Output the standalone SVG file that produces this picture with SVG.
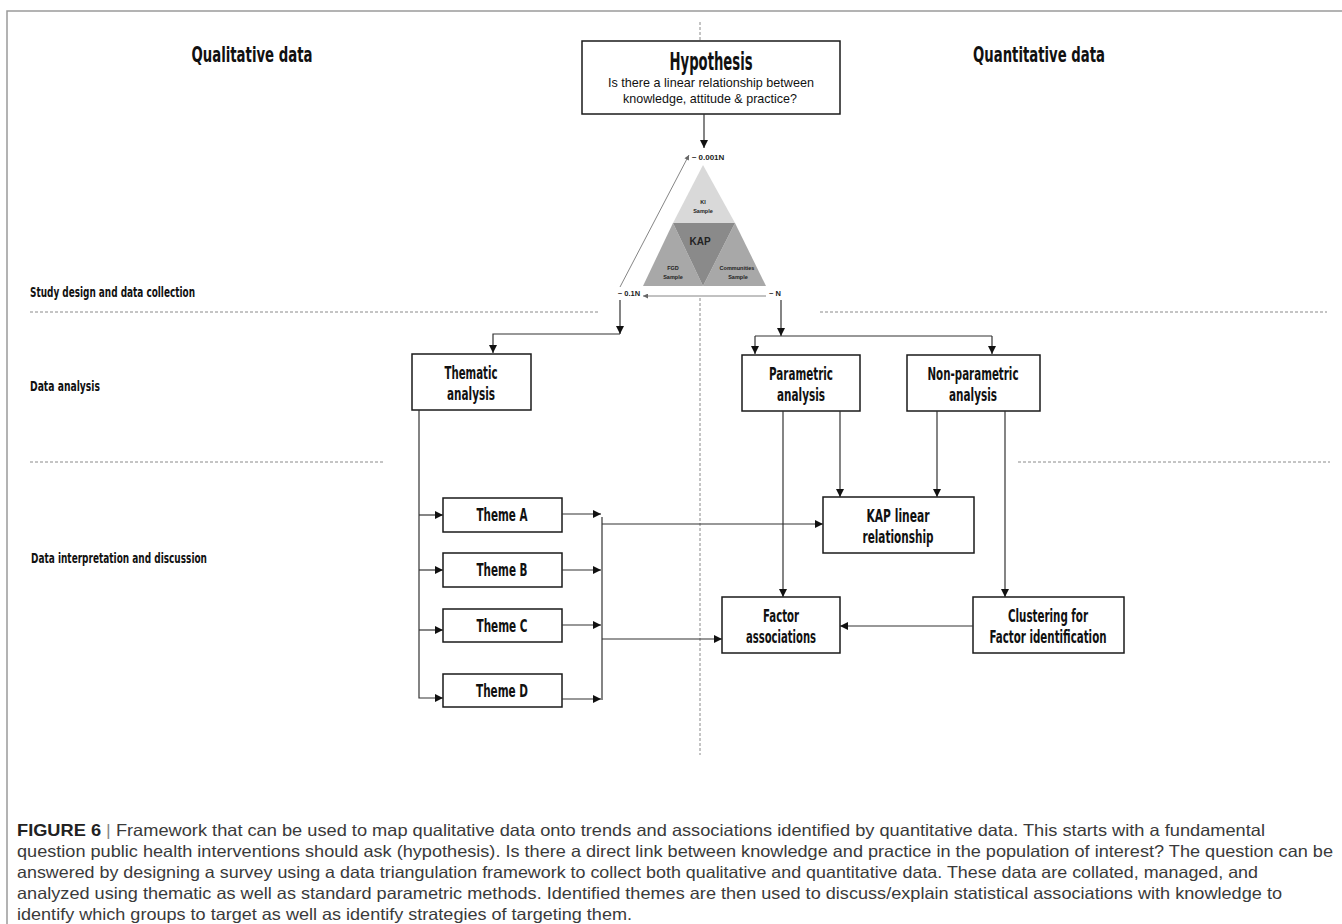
<svg xmlns="http://www.w3.org/2000/svg" width="1342" height="924" viewBox="0 0 1342 924">
<style>
.frame{stroke:#9a9a9a;stroke-width:1.5;fill:none}
.box{fill:#fff;stroke:#1a1a1a;stroke-width:1.5}
.cond{font-family:'Liberation Sans Narrow','DejaVu Sans Condensed','Roboto Condensed',sans-serif;fill:#111;font-weight:bold}
.lbl{font-size:17px;text-anchor:middle}
.side{font-size:14px}
.head{font-size:22px;text-anchor:middle}
.sub{font-family:'Liberation Sans','Open Sans',sans-serif;font-size:13.5px;fill:#111;text-anchor:middle}
.tri{font-family:'Liberation Sans',sans-serif;font-weight:bold;fill:#222;text-anchor:middle}
.conn{stroke:#333;stroke-width:1.2;fill:none}
.thin{stroke:#777;stroke-width:0.9;fill:none}
.dash{stroke:#8a8a8a;stroke-width:1;stroke-dasharray:3 2;fill:none}
.cap{font-family:'Liberation Sans','Roboto',sans-serif;font-size:16.5px;fill:#3a3a3a}
</style>
<defs>
<marker id="ah" viewBox="0 0 10 10" refX="10" refY="5" markerUnits="userSpaceOnUse" markerWidth="9" markerHeight="8" orient="auto">
<path d="M0,0 L10,5 L0,10 z" fill="#111"/>
</marker>
<marker id="ahs" viewBox="0 0 10 10" refX="10" refY="5" markerUnits="userSpaceOnUse" markerWidth="6" markerHeight="5" orient="auto">
<path d="M0,0 L10,5 L0,10 z" fill="#666"/>
</marker>
</defs>
<rect width="1342" height="924" fill="#fff"/>
<path class="frame" d="M7,924 V11 H1342"/>

<g id="headings">
<text class="cond head" x="252" y="62" textLength="121" lengthAdjust="spacingAndGlyphs">Qualitative data</text>
<text class="cond head" x="1039" y="62" textLength="132" lengthAdjust="spacingAndGlyphs">Quantitative data</text>
<text class="cond side" x="30" y="297" textLength="165" lengthAdjust="spacingAndGlyphs">Study design and data collection</text>
<text class="cond side" x="30" y="391" textLength="70" lengthAdjust="spacingAndGlyphs">Data analysis</text>
<text class="cond side" x="31" y="563" textLength="176" lengthAdjust="spacingAndGlyphs">Data interpretation and discussion</text>
</g>

<g id="separators">
<path class="dash" d="M700,22 V40"/>
<path class="dash" d="M700,298 V755"/>
<path class="dash" d="M30,312 H600 M820,312 H1327"/>
<path class="dash" d="M30,462 H383 M1018,462 H1330"/>
</g>

<g id="hypothesis">
<rect class="box" x="582" y="41" width="258" height="73"/>
<text class="cond" x="711" y="70" font-size="25" text-anchor="middle" textLength="83" lengthAdjust="spacingAndGlyphs">Hypothesis</text>
<text class="sub" x="711" y="87" textLength="206" lengthAdjust="spacingAndGlyphs">Is there a linear relationship between</text>
<text class="sub" x="710" y="103" textLength="174" lengthAdjust="spacingAndGlyphs">knowledge, attitude &amp; practice?</text>
</g>

<g id="triangle">
<polygon points="703,165 735,223 673,223" fill="#d9d9d9"/>
<polygon points="673,223 643,286 703,286" fill="#a8a8a8"/>
<polygon points="735,223 766,286 703,286" fill="#a8a8a8"/>
<polygon points="673,223 735,223 703,286" fill="#8a8a8a"/>
<text class="tri" x="708" y="160" font-size="8">~ 0.001N</text>
<text class="tri" x="703" y="204" font-size="5.5">KI</text>
<text class="tri" x="703" y="213" font-size="5.5">Sample</text>
<text class="tri" x="700" y="245" font-size="10">KAP</text>
<text class="tri" x="673" y="270" font-size="5.5">FGD</text>
<text class="tri" x="673" y="279" font-size="5.5">Sample</text>
<text class="tri" x="737" y="270" font-size="5.5">Communities</text>
<text class="tri" x="738" y="279" font-size="5.5">Sample</text>
<text class="tri" x="629" y="296" font-size="7.5">~ 0.1N</text>
<text class="tri" x="775" y="296" font-size="7.5">~ N</text>
</g>

<g id="thematic">
<rect class="box" x="412" y="354" width="119" height="56"/>
<text class="cond lbl" x="471" y="379" textLength="53" lengthAdjust="spacingAndGlyphs">Thematic</text>
<text class="cond lbl" x="471" y="400" textLength="48" lengthAdjust="spacingAndGlyphs">analysis</text>
</g>
<g id="parametric">
<rect class="box" x="742" y="355" width="118" height="56"/>
<text class="cond lbl" x="801" y="380" textLength="64" lengthAdjust="spacingAndGlyphs">Parametric</text>
<text class="cond lbl" x="801" y="401" textLength="48" lengthAdjust="spacingAndGlyphs">analysis</text>
</g>
<g id="nonparametric">
<rect class="box" x="907" y="355" width="133" height="56"/>
<text class="cond lbl" x="973" y="380" textLength="91" lengthAdjust="spacingAndGlyphs">Non-parametric</text>
<text class="cond lbl" x="973" y="401" textLength="48" lengthAdjust="spacingAndGlyphs">analysis</text>
</g>
<g id="themeA">
<rect class="box" x="443" y="498" width="119" height="34"/>
<text class="cond lbl" x="502" y="521" textLength="51" lengthAdjust="spacingAndGlyphs">Theme A</text>
</g>
<g id="themeB">
<rect class="box" x="443" y="553" width="119" height="34"/>
<text class="cond lbl" x="502" y="576" textLength="51" lengthAdjust="spacingAndGlyphs">Theme B</text>
</g>
<g id="themeC">
<rect class="box" x="443" y="609" width="119" height="33"/>
<text class="cond lbl" x="502" y="632" textLength="51" lengthAdjust="spacingAndGlyphs">Theme C</text>
</g>
<g id="themeD">
<rect class="box" x="443" y="674" width="119" height="33"/>
<text class="cond lbl" x="502" y="697" textLength="52" lengthAdjust="spacingAndGlyphs">Theme D</text>
</g>
<g id="kaplinear">
<rect class="box" x="823" y="497" width="151" height="56"/>
<text class="cond lbl" x="898" y="522" textLength="63" lengthAdjust="spacingAndGlyphs">KAP linear</text>
<text class="cond lbl" x="898" y="543" textLength="71" lengthAdjust="spacingAndGlyphs">relationship</text>
</g>
<g id="factor">
<rect class="box" x="722" y="597" width="118" height="56"/>
<text class="cond lbl" x="781" y="622" textLength="36" lengthAdjust="spacingAndGlyphs">Factor</text>
<text class="cond lbl" x="781" y="643" textLength="70" lengthAdjust="spacingAndGlyphs">associations</text>
</g>
<g id="clustering">
<rect class="box" x="973" y="597" width="151" height="56"/>
<text class="cond lbl" x="1048" y="622" textLength="80" lengthAdjust="spacingAndGlyphs">Clustering for</text>
<text class="cond lbl" x="1048" y="643" textLength="117" lengthAdjust="spacingAndGlyphs">Factor identification</text>
</g>

<g id="connectors">
<path class="conn" d="M704,114 V148" marker-end="url(#ah)"/>
<path class="thin" d="M620,287 L689,155" marker-end="url(#ahs)"/>
<path class="thin" d="M766,296 H643" marker-end="url(#ahs)"/>
<path class="conn" d="M620,300 V334" marker-end="url(#ah)"/>
<path class="conn" d="M620,334 H493 V353" marker-end="url(#ah)"/>
<path class="conn" d="M781,300 V336" marker-end="url(#ah)"/>
<path class="conn" d="M755,336 H992"/>
<path class="conn" d="M755,336 V354" marker-end="url(#ah)"/>
<path class="conn" d="M992,336 V354" marker-end="url(#ah)"/>
<path class="conn" d="M419,410 V698 H443" marker-end="url(#ah)"/>
<path class="conn" d="M419,515 H443" marker-end="url(#ah)"/>
<path class="conn" d="M419,570 H443" marker-end="url(#ah)"/>
<path class="conn" d="M419,630 H443" marker-end="url(#ah)"/>
<path class="conn" d="M562,514 H601" marker-end="url(#ah)"/>
<path class="conn" d="M562,570 H601" marker-end="url(#ah)"/>
<path class="conn" d="M562,625 H601" marker-end="url(#ah)"/>
<path class="conn" d="M562,699 H601" marker-end="url(#ah)"/>
<path class="conn" d="M602,517 V700"/>
<path class="conn" d="M602,524 H823" marker-end="url(#ah)"/>
<path class="conn" d="M602,639 H722" marker-end="url(#ah)"/>
<path class="conn" d="M783,411 V597" marker-end="url(#ah)"/>
<path class="conn" d="M840,411 V497" marker-end="url(#ah)"/>
<path class="conn" d="M937,411 V497" marker-end="url(#ah)"/>
<path class="conn" d="M1005,411 V597" marker-end="url(#ah)"/>
<path class="conn" d="M973,626 H840" marker-end="url(#ah)"/>
</g>

<g id="caption">
<text class="cap" x="17" y="836" textLength="1248" lengthAdjust="spacingAndGlyphs"><tspan font-weight="bold" fill="#222">FIGURE 6</tspan> <tspan fill="#888">|</tspan> Framework that can be used to map qualitative data onto trends and associations identified by quantitative data. This starts with a fundamental</text>
<text class="cap" x="17" y="857" textLength="1316" lengthAdjust="spacingAndGlyphs">question public health interventions should ask (hypothesis). Is there a direct link between knowledge and practice in the population of interest? The question can be</text>
<text class="cap" x="17" y="878" textLength="1241" lengthAdjust="spacingAndGlyphs">answered by designing a survey using a data triangulation framework to collect both qualitative and quantitative data. These data are collated, managed, and</text>
<text class="cap" x="17" y="899" textLength="1265" lengthAdjust="spacingAndGlyphs">analyzed using thematic as well as standard parametric methods. Identified themes are then used to discuss/explain statistical associations with knowledge to</text>
<text class="cap" x="17" y="920" textLength="615" lengthAdjust="spacingAndGlyphs">identify which groups to target as well as identify strategies of targeting them.</text>
</g>
</svg>
